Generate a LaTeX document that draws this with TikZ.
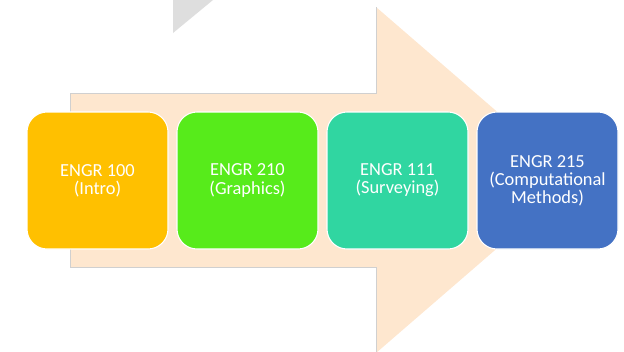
\documentclass[tikz,border=0pt]{standalone}
\usepackage{fontspec}
\setmainfont{Carlito}
\definecolor{peach}{HTML}{FEE7CF}
\definecolor{cA}{HTML}{FFC000}
\definecolor{cB}{HTML}{57EB1B}
\definecolor{cC}{HTML}{30D6A1}
\definecolor{cD}{HTML}{4472C4}
\definecolor{edgegray}{HTML}{D0D0D0}
\definecolor{trigray}{HTML}{DEDEDE}
\tikzset{
  course/.style={rounded corners=15pt, draw=white, line width=0.8pt,
    minimum width=105.75pt, minimum height=102.75pt, inner sep=1pt,
    text=white, align=center, font=\fontsize{13.8}{13.6}\selectfont},
}
\begin{document}
\begin{tikzpicture}[x=0.75pt,y=-0.75pt]
\useasboundingbox (0,0) rectangle (624,351);
% gray triangle
\fill[trigray] (173,0) -- (213,0) -- (173,33) -- cycle;
% big arrow
\fill[peach] (70,93) -- (376,93) -- (376,7) -- (576,180) -- (376,353) -- (376,267) -- (70,267) -- cycle;
\draw[edgegray, line width=0.6pt] (70,267) -- (70,93) -- (376,93) -- (376,7);
\draw[edgegray, line width=0.6pt] (70,267) -- (376,267) -- (376,353);
% boxes
\node[course, fill=cA] (b1) at (97.5,180.5) {ENGR 100\\(Intro)};
\node[course, fill=cB] (b2) at (247.5,180.5) {ENGR 210\\(Graphics)};
\node[course, fill=cC] (b3) at (397.5,180.5) {ENGR 111\\(Surveying)};
\node[course, fill=cD] (b4) at (547.5,180.5) {ENGR 215\\(Computational\\Methods)};
\end{tikzpicture}
\end{document}
